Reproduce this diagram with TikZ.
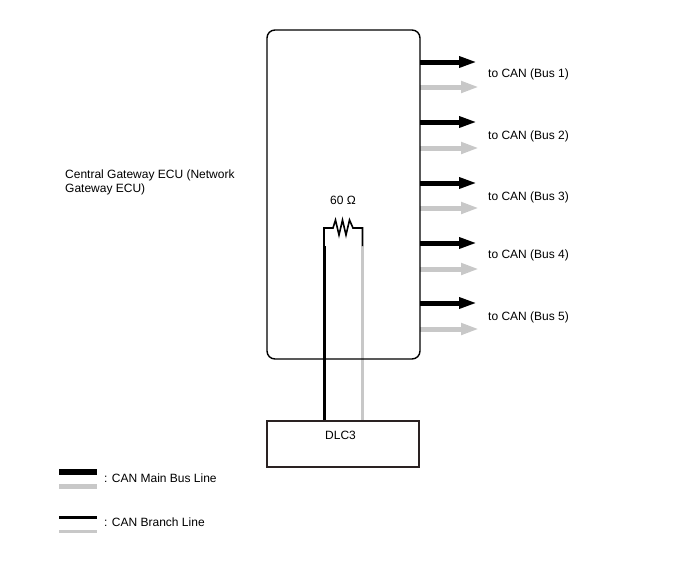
\documentclass[tikz,border=0pt]{standalone}
\usepackage{fontspec}
\usepackage{tikz}
\usetikzlibrary{arrows.meta}
\setmainfont{Liberation Sans}
\definecolor{busgray}{HTML}{C8C8C8}
\definecolor{boxline}{HTML}{2A2222}
\tikzset{
	unit/.style={draw=black, line width=1.4pt, rounded corners=8pt},
	box/.style={draw=boxline, line width=1.1pt},
	lbl/.style={anchor=west, inner sep=0pt, font=\fontsize{12}{14}\selectfont, align=left},
	mainhi/.style={draw=black, line width=5pt, -{Triangle[length=18pt,width=10.5pt]}},
	mainlo/.style={draw=busgray, line width=5pt, -{Triangle[length=18pt,width=11pt]}},
	branchhi/.style={draw=black, line width=3pt},
	branchlo/.style={draw=busgray, line width=3pt},
	thin wire/.style={draw=black, line width=1.6pt, line join=miter},
	keyhi/.style={draw=black, line width=5.5pt},
	keylo/.style={draw=busgray, line width=5.5pt}
}
\begin{document}
\begin{tikzpicture}[x=1pt,y=-1pt]
	\useasboundingbox (0,0) rectangle (688,560);

	% bus outputs
	\coordinate (h1) at (420,62);
	\coordinate (h1e) at (477,62);
	\coordinate (l1) at (420,87);
	\coordinate (l1e) at (479,87);
	\coordinate (h2) at (420,122);
	\coordinate (h2e) at (477,122);
	\coordinate (l2) at (420,148);
	\coordinate (l2e) at (479,148);
	\coordinate (h3) at (420,183);
	\coordinate (h3e) at (477,183);
	\coordinate (l3) at (420,208);
	\coordinate (l3e) at (479,208);
	\coordinate (h4) at (420,243);
	\coordinate (h4e) at (477,243);
	\coordinate (l4) at (420,269);
	\coordinate (l4e) at (479,269);
	\coordinate (h5) at (420,303);
	\coordinate (h5e) at (477,303);
	\coordinate (l5) at (420,329);
	\coordinate (l5e) at (479,329);

	\path
	(h1) edge[mainhi] (h1e)
	(l1) edge[mainlo] (l1e)
	(h2) edge[mainhi] (h2e)
	(l2) edge[mainlo] (l2e)
	(h3) edge[mainhi] (h3e)
	(l3) edge[mainlo] (l3e)
	(h4) edge[mainhi] (h4e)
	(l4) edge[mainlo] (l4e)
	(h5) edge[mainhi] (h5e)
	(l5) edge[mainlo] (l5e);

	% resistor and branch wires
	\coordinate (wh) at (324,421);
	\coordinate (wl) at (362.5,421);
	\coordinate (jh) at (324,246);
	\coordinate (jl) at (362.5,246);
	\coordinate (th) at (324,228);
	\coordinate (tl) at (362.5,228);
	\coordinate (r1) at (333,228);
	\coordinate (r2) at (353,228);

	\path
	(wh) edge[branchhi] (jh)
	(wl) edge[branchlo] (jl);
	\draw[thin wire] (jh) -- (th) -- (r1) -- ++(2.5,-8) -- ++(3.5,15) -- ++(3.5,-15)
		-- ++(3.5,15) -- ++(3.5,-15) -- (r2) -- (tl) -- (jl);

	\node[unit, minimum width=153pt, minimum height=329pt, inner sep=0pt] (gateway) at (343.5,194.5) {};
	\node[box, minimum width=152pt, minimum height=46pt, inner sep=0pt] (dlc) at (343,444) {};
	\node[inner sep=0pt, font=\fontsize{12}{14}\selectfont] (dlclabel) at (340.5,435.5) {DLC3};
	\node[lbl] (name) at (65,182) {Central Gateway ECU (Network\\Gateway ECU)};
	\node[inner sep=0pt, font=\fontsize{12}{14}\selectfont] (ohm) at (343,200) {60 Ω};

	\node[lbl] (bus1) at (488,74) {to CAN (Bus 1)};
	\node[lbl] (bus2) at (488,136) {to CAN (Bus 2)};
	\node[lbl] (bus3) at (488,197) {to CAN (Bus 3)};
	\node[lbl] (bus4) at (488,255) {to CAN (Bus 4)};
	\node[lbl] (bus5) at (488,317) {to CAN (Bus 5)};

	\node[lbl] (keymain) at (104,478) {: CAN Main Bus Line};
	\node[lbl] (keybranch) at (104,522) {: CAN Branch Line};

	% legend
	\coordinate (k1) at (59,472);
	\coordinate (k1e) at (97,472);
	\coordinate (k2) at (59,486.5);
	\coordinate (k2e) at (97,486.5);
	\coordinate (k3) at (59,517);
	\coordinate (k3e) at (97,517);
	\coordinate (k4) at (59,531);
	\coordinate (k4e) at (97,531);

	\path
	(k1) edge[keyhi] (k1e)
	(k2) edge[keylo] (k2e)
	(k3) edge[branchhi] (k3e)
	(k4) edge[branchlo] (k4e);
\end{tikzpicture}
\end{document}
